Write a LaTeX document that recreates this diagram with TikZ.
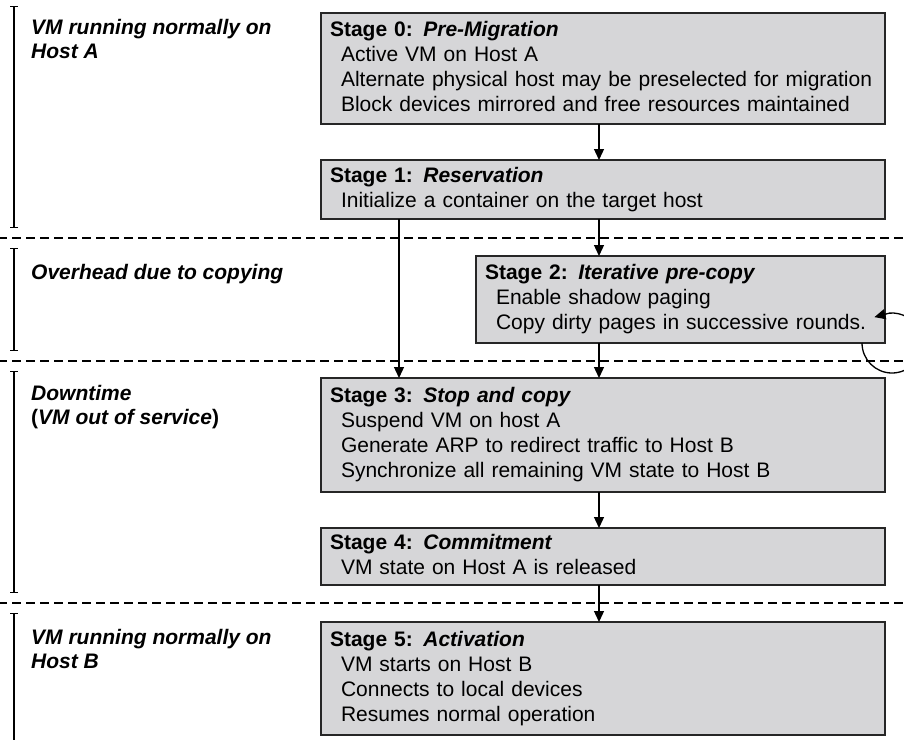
\documentclass[tikz,border=0pt]{standalone}
\usepackage{fontspec}
\setmainfont{Liberation Sans}
\usetikzlibrary{positioning,arrows.meta}
\definecolor{boxgray}{RGB}{214,214,216}
\newcommand{\ind}{\hspace*{11pt}}

\begin{document}
\begin{tikzpicture}[
x=1pt, y=-1pt,
stage/.style={rectangle, draw=black!85, fill=boxgray, line width=1.6pt, inner xsep=9pt, inner ysep=0pt, outer sep=0pt, align=left, font=\fontsize{21}{25}\selectfont, execute at begin node=\strut, execute at end node=\strut},
lbl/.style={anchor=north west, inner sep=0pt, align=left, font=\fontsize{21}{24}\selectfont\bfseries\itshape, execute at begin node=\strut},
sep/.style={line width=1.2pt, dash pattern=on 9pt off 5pt, dash phase=2pt},
brk/.style={line width=1.2pt},
flow/.style={line width=1.3pt, -{Triangle[length=11pt,width=10pt]}}
]
\useasboundingbox (0,0) rectangle (904,740);
\clip (0,0) rectangle (904,740);

%Nodes
\node[stage, text width=546pt, minimum height=111pt, anchor=north west]	(s0) at (321,13)	{\textbf{Stage 0: \textit{Pre-Migration}}\\ \ind Active VM on Host A\\ \ind Alternate physical host may be preselected for migration\\ \ind Block devices mirrored and free resources maintained};
\node[stage, text width=546pt, minimum height=59pt]	(s1) [below=36pt of s0.south west, anchor=north west]	{\textbf{Stage 1: \textit{Reservation}}\\ \ind Initialize a container on the target host};
\node[stage, text width=391pt, minimum height=87pt]	(s2) [below right=37pt and 155pt of s1.south west]	{\textbf{Stage 2: \textit{Iterative pre-copy}}\\ \ind Enable shadow paging\\ \ind Copy dirty pages in successive rounds.};
\node[stage, text width=546pt, minimum height=114pt]	(s3) [below=35pt of s2.south west, anchor=north west, xshift=-155pt]	{\textbf{Stage 3: \textit{Stop and copy}}\\ \ind Suspend VM on host A\\ \ind Generate ARP to redirect traffic to Host B\\ \ind Synchronize all remaining VM state to Host B};
\node[stage, text width=546pt, minimum height=57pt]	(s4) [below=36pt of s3.south west, anchor=north west]	{\textbf{Stage 4: \textit{Commitment}}\\ \ind VM state on Host A is released};
\node[stage, text width=546pt, minimum height=113pt]	(s5) [below=37pt of s4.south west, anchor=north west]	{\textbf{Stage 5: \textit{Activation}}\\ \ind VM starts on Host B\\ \ind Connects to local devices\\ \ind Resumes normal operation};

\node[lbl]	(hostA)		at (31,19)	{VM running normally on\\ Host A};
\node[lbl]	(overhead)	at (31,262)	{Overhead due to copying};
\node[lbl]	(downtime)	at (31,385)	{Downtime\\ \textup{(}VM out of service\textup{)}};
\node[lbl]	(hostB)		at (31,629)	{VM running normally on\\ Host B};

\coordinate (mid) at (599,0);
\coordinate (lft) at (399,0);

%Lines
\draw[sep] (0,238) -- (904,238);
\draw[sep] (0,361) -- (904,361);
\draw[sep] (0,603) -- (904,603);

\draw[brk, {Bar[width=8pt]}-{Bar[width=8pt]}] (14,6)	-- (14,228);
\draw[brk, {Bar[width=8pt]}-{Bar[width=8pt]}] (14,248)	-- (14,351);
\draw[brk, {Bar[width=8pt]}-{Bar[width=8pt]}] (14,371)	-- (14,593);
\draw[brk, {Bar[width=8pt]}-] (14,613)	-- (14,740);

\draw[flow] (s0.south -| mid)	--	(s1.north -| mid);
\draw[flow] (s1.south -| mid)	--	(s2.north -| mid);
\draw[flow] (s1.south -| lft)	--	(s3.north -| lft);
\draw[flow] (s2.south -| mid)	--	(s3.north -| mid);
\draw[flow] (s3.south -| mid)	--	(s4.north -| mid);
\draw[flow] (s4.south -| mid)	--	(s5.north -| mid);
\draw[flow] (s2.south east) ++(-23,0) arc[start angle=180, end angle=-95, radius=30] -- ++(-15,4);

\end{tikzpicture}
\end{document}
